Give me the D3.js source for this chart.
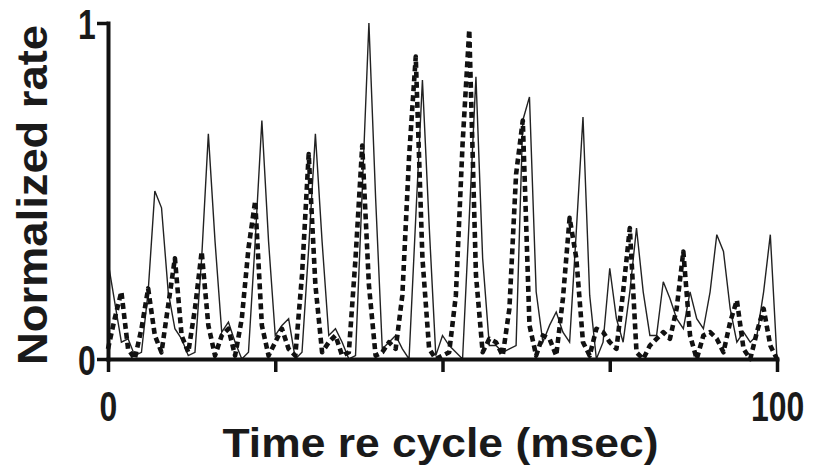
<!DOCTYPE html>
<html>
<head>
<meta charset="utf-8">
<script src="https://cdn.jsdelivr.net/npm/d3@7"></script>
<style>
  html, body { margin: 0; padding: 0; background: #fff; }
  svg { display: block; }
  text { font-family: "Liberation Sans", Arial, Helvetica, sans-serif; font-weight: bold; fill: #1a1a1a; }
</style>
</head>
<body>
<svg id="chart" width="814" height="471"></svg>
<script>
// Time axis (msec), one bin per millisecond over one 100 ms cycle
const timeMs = d3.range(0, 101);

// Normalized firing rate, solid trace
const solidRate = [
  0.29, 0.17, 0.05, 0.06, 0.01, 0.02, 0.20, 0.50, 0.45, 0.20,
  0.09, 0.06, 0.01, 0.02, 0.30, 0.67, 0.35, 0.08, 0.11, 0.05,
  0.00, 0.02, 0.35, 0.71, 0.35, 0.07, 0.10, 0.12, 0.00, 0.02,
  0.33, 0.67, 0.35, 0.07, 0.09, 0.05, 0.00, 0.01, 0.50, 1.00,
  0.48, 0.03, 0.05, 0.07, 0.03, 0.00, 0.42, 0.83, 0.40, 0.01,
  0.07, 0.04, 0.02, 0.00, 0.42, 0.84, 0.30, 0.04, 0.04, 0.02,
  0.03, 0.04, 0.71, 0.78, 0.20, 0.05, 0.10, 0.14, 0.08, 0.05,
  0.38, 0.72, 0.19, 0.00, 0.05, 0.27, 0.12, 0.05, 0.20, 0.39,
  0.20, 0.07, 0.07, 0.23, 0.18, 0.12, 0.09, 0.20, 0.12, 0.09,
  0.20, 0.37, 0.32, 0.15, 0.05, 0.08, 0.05, 0.07, 0.20, 0.37,
  0.00
];

// Normalized firing rate, dotted trace
const dottedRate = [
  0.03, 0.12, 0.20, 0.03, 0.00, 0.09, 0.21, 0.07, 0.02, 0.16,
  0.30, 0.07, 0.02, 0.15, 0.32, 0.10, 0.01, 0.07, 0.09, 0.01,
  0.12, 0.33, 0.47, 0.10, 0.01, 0.05, 0.09, 0.03, 0.01, 0.25,
  0.61, 0.22, 0.02, 0.05, 0.07, 0.01, 0.02, 0.30, 0.635, 0.22,
  0.01, 0.02, 0.05, 0.03, 0.19, 0.60, 0.90, 0.30, 0.03, 0.00,
  0.01, 0.02, 0.19, 0.64, 0.98, 0.25, 0.02, 0.06, 0.05, 0.01,
  0.15, 0.55, 0.71, 0.10, 0.01, 0.07, 0.06, 0.01, 0.18, 0.42,
  0.30, 0.05, 0.01, 0.09, 0.08, 0.05, 0.03, 0.20, 0.39, 0.02,
  0.00, 0.04, 0.06, 0.08, 0.06, 0.15, 0.32, 0.07, 0.00, 0.07,
  0.08, 0.06, 0.02, 0.11, 0.175, 0.03, 0.00, 0.08, 0.15, 0.04,
  0.00
];

// Axis ticks
const xTicks = [0, 25, 50, 75, 100];
const xTickLabels = ["0", "", "", "", "100"];
const yTicks = [0, 1];
const yTickLabels = ["0", "1"];

const svg = d3.select("#chart");

const x = d3.scaleLinear().domain([0, 100]).range([108, 777]);
const y = d3.scaleLinear().domain([0, 1]).range([359, 23]);

const line = (vals) => d3.line()
  .x((d, i) => x(timeMs[i]))
  .y(d => y(d))(vals);

// Traces
svg.append("path")
  .attr("d", line(solidRate))
  .attr("fill", "none")
  .attr("stroke", "#222")
  .attr("stroke-width", 1.4)
  .attr("stroke-linejoin", "miter");

svg.append("path")
  .attr("d", line(dottedRate))
  .attr("fill", "none")
  .attr("stroke", "#111")
  .attr("stroke-width", 4.6)
  .attr("stroke-dasharray", "6 4")
  .attr("stroke-linejoin", "round");

// X axis
const xAxis = svg.append("g")
  .attr("transform", `translate(0,${y(0)})`)
  .call(d3.axisBottom(x)
    .tickValues(xTicks)
    .tickFormat((d, i) => xTickLabels[i])
    .tickSize(13)
    .tickSizeOuter(0)
    .tickPadding(19));

// Y axis
const yAxis = svg.append("g")
  .attr("transform", `translate(${x(0)},0)`)
  .call(d3.axisLeft(y)
    .tickValues(yTicks)
    .tickFormat((d, i) => yTickLabels[i])
    .tickSize(11)
    .tickSizeOuter(0)
    .tickPadding(5));

[xAxis, yAxis].forEach(g => {
  g.select(".domain").attr("stroke", "#111").attr("stroke-width", 4).attr("stroke-linecap", "square");
  g.selectAll(".tick line").attr("stroke", "#111").attr("stroke-width", 3.5);
  // narrow bold digits, as in a condensed sans
  g.selectAll(".tick text")
    .attr("font-size", 42)
    .attr("font-family", "'Liberation Sans', Arial, sans-serif")
    .attr("font-weight", "bold")
    .attr("fill", "#1a1a1a")
    .attr("transform", "scale(0.76,1)");
});

yAxis.selectAll(".tick text").attr("dy", "0.36em");

// Axis titles
svg.append("text")
  .attr("x", (x(0) + x(100)) / 2 - 2)
  .attr("y", 457)
  .attr("text-anchor", "middle")
  .attr("font-size", 41)
  .attr("textLength", 436)
  .attr("lengthAdjust", "spacingAndGlyphs")
  .text("Time re cycle (msec)");

svg.append("text")
  .attr("transform", `translate(47,${(y(0) + y(1)) / 2 + 4}) rotate(-90)`)
  .attr("text-anchor", "middle")
  .attr("font-size", 42)
  .attr("textLength", 340)
  .attr("lengthAdjust", "spacingAndGlyphs")
  .text("Normalized rate");
</script>
</body>
</html>
